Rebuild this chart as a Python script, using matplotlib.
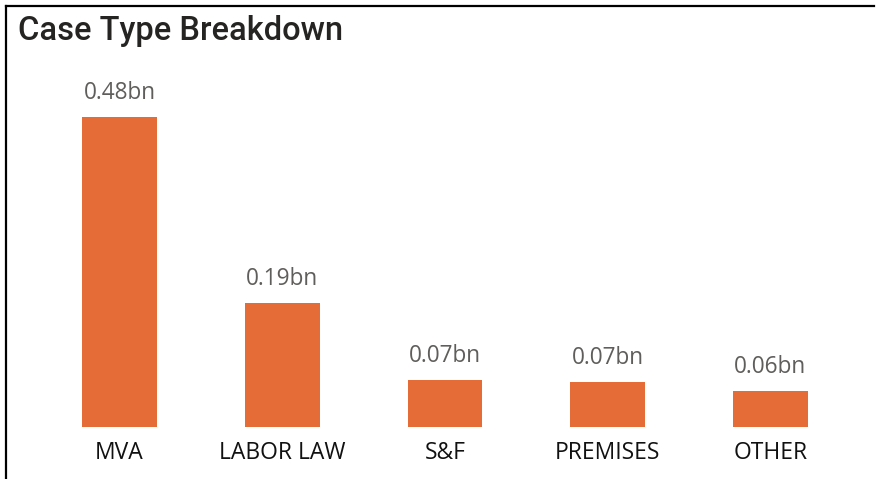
import matplotlib
matplotlib.use("Agg")
import matplotlib.pyplot as plt
from matplotlib.lines import Line2D

categories = ["MVA", "LABOR LAW", "S&F", "PREMISES", "OTHER"]
values = [0.48, 0.192, 0.073, 0.070, 0.056]
labels = ["0.48bn", "0.19bn", "0.07bn", "0.07bn", "0.06bn"]

W, H = 883, 479
fig = plt.figure(figsize=(W / 100, H / 100), dpi=100)
fig.patch.set_facecolor("white")

# axes placed so bar centres / baseline match the reference
ax = fig.add_axes([38.1 / W, 1 - 427 / H, 813.75 / W, 310 / H])
x = range(len(categories))
ax.bar(x, values, width=0.46, color="#E66C37")
ax.set_xlim(-0.5, len(categories) - 0.5)
ax.set_ylim(0, 0.48)

for xi, v, lab in zip(x, values, labels):
    ax.annotate(lab, (xi, v), xytext=(0, 13), textcoords="offset points",
                ha="center", va="baseline", fontsize=16.3, color="#605E5C",
                family="Open Sans", annotation_clip=False)

ax.set_xticks(list(x))
ax.set_xticklabels(categories, fontsize=16.5, color="#111111", family="Open Sans")
ax.tick_params(axis="x", length=0, pad=10)
ax.set_yticks([])
for s in ax.spines.values():
    s.set_visible(False)

fig.text(18 / W, 1 - 40 / H, "Case Type Breakdown", fontsize=23.5, color="#252423",
         family="Roboto", fontweight="medium", ha="left", va="baseline")

# frame lines (top and left)
fig.add_artist(Line2D([6 / W, 874 / W], [1 - 6 / H, 1 - 6 / H], color="black", lw=1.6,
                      transform=fig.transFigure))
fig.add_artist(Line2D([6 / W, 6 / W], [0, 1 - 6 / H], color="black", lw=1.6,
                      transform=fig.transFigure))

fig.savefig("out.png", dpi=100)
